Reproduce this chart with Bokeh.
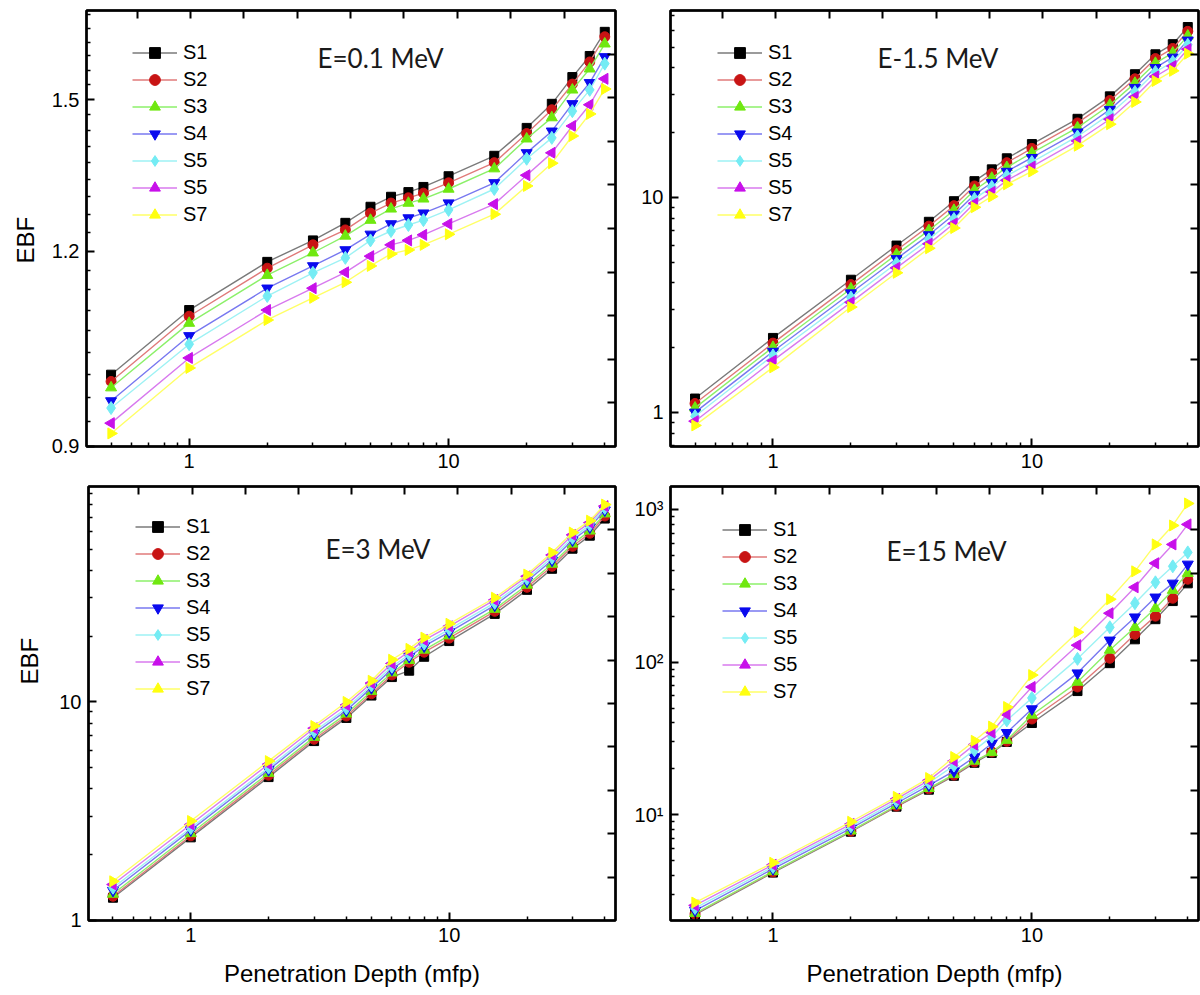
import math
from bokeh.plotting import figure
from bokeh.layouts import row, column
from bokeh.models import (Range1d, FixedTicker, LinearAxis, LinearScale, Legend, LegendItem,
                          Label, Title, PrintfTickFormatter, CustomJSTickFormatter)
from bokeh.embed import file_html
from bokeh.resources import INLINE

# ---------------- data ----------------
depth = [0.5, 1, 2, 3, 4, 5, 6, 7, 8, 10, 15, 20, 25, 30, 35, 40]
series_labels = ["S1", "S2", "S3", "S4", "S5", "S5", "S7"]

ebf_e01 = [
    [1.000, 1.100, 1.181, 1.219, 1.251, 1.281, 1.300, 1.309, 1.319, 1.340, 1.381, 1.439, 1.491, 1.551, 1.600, 1.658],
    [0.990, 1.090, 1.170, 1.211, 1.238, 1.269, 1.288, 1.298, 1.307, 1.327, 1.367, 1.427, 1.478, 1.535, 1.586, 1.646],
    [0.981, 1.079, 1.158, 1.197, 1.227, 1.256, 1.277, 1.288, 1.296, 1.315, 1.355, 1.416, 1.461, 1.522, 1.570, 1.629],
    [0.962, 1.059, 1.136, 1.174, 1.202, 1.230, 1.249, 1.260, 1.269, 1.288, 1.327, 1.387, 1.432, 1.491, 1.538, 1.598],
    [0.952, 1.046, 1.123, 1.162, 1.188, 1.219, 1.236, 1.247, 1.256, 1.275, 1.315, 1.375, 1.418, 1.475, 1.522, 1.582],
    [0.931, 1.025, 1.100, 1.136, 1.163, 1.191, 1.211, 1.219, 1.229, 1.249, 1.286, 1.342, 1.387, 1.443, 1.489, 1.547],
    [0.917, 1.010, 1.084, 1.120, 1.146, 1.174, 1.195, 1.202, 1.211, 1.230, 1.267, 1.321, 1.366, 1.422, 1.469, 1.524],
]

ebf_e15 = [
    [1.16, 2.22, 4.14, 5.97, 7.70, 9.60, 11.9, 13.5, 15.2, 17.7, 23.2, 29.5, 37.4, 46.3, 51.6, 62.0],
    [1.10, 2.10, 3.93, 5.68, 7.35, 9.15, 11.3, 12.9, 14.5, 16.9, 22.2, 28.2, 35.6, 44.2, 49.3, 59.2],
    [1.05, 2.01, 3.76, 5.43, 7.02, 8.72, 10.8, 12.3, 13.8, 16.1, 21.1, 26.9, 34.0, 42.1, 47.0, 56.4],
    [1.00, 1.92, 3.59, 5.18, 6.69, 8.32, 10.3, 11.7, 13.2, 15.3, 20.1, 25.6, 32.4, 40.1, 44.8, 53.8],
    [0.96, 1.84, 3.42, 4.94, 6.38, 7.93, 9.84, 11.2, 12.6, 14.6, 19.2, 24.4, 30.9, 38.3, 42.7, 51.3],
    [0.91, 1.74, 3.25, 4.70, 6.08, 7.56, 9.38, 10.6, 12.0, 13.9, 18.3, 23.1, 29.3, 36.5, 40.8, 48.9],
    [0.87, 1.62, 3.09, 4.46, 5.80, 7.20, 9.00, 10.1, 11.5, 13.2, 17.4, 21.9, 27.8, 34.8, 38.8, 46.6],
]

ebf_e3 = [
    [1.27, 2.40, 4.53, 6.62, 8.45, 10.7, 13.0, 13.9, 16.1, 19.0, 25.3, 32.6, 40.7, 50.3, 57.7, 69.1],
    [1.29, 2.44, 4.62, 6.75, 8.62, 10.9, 13.3, 15.2, 16.9, 19.6, 26.0, 33.5, 41.8, 51.6, 59.2, 71.0],
    [1.32, 2.50, 4.72, 6.90, 8.82, 11.2, 13.6, 15.5, 17.3, 20.1, 26.6, 34.3, 42.8, 52.9, 60.7, 72.7],
    [1.37, 2.59, 4.89, 7.15, 9.13, 11.6, 14.1, 16.1, 18.0, 20.9, 27.7, 35.7, 44.5, 55.0, 63.1, 75.5],
    [1.41, 2.65, 5.00, 7.32, 9.35, 11.9, 14.5, 16.5, 18.5, 21.5, 28.4, 36.6, 45.7, 56.4, 64.7, 77.3],
    [1.46, 2.75, 5.19, 7.58, 9.68, 12.2, 15.0, 17.0, 19.2, 22.2, 29.3, 37.6, 47.1, 58.2, 66.2, 78.8],
    [1.51, 2.85, 5.36, 7.76, 10.0, 12.5, 15.6, 17.5, 19.7, 22.8, 30.0, 38.3, 48.3, 59.6, 67.6, 80.1],
]

ebf_e150 = [
    [2.22, 4.18, 7.74, 11.3, 14.6, 18.0, 21.9, 25.4, 30.0, 39.9, 64.6, 98.4, 141, 191, 251, 328],
    [2.24, 4.22, 7.80, 11.4, 14.8, 18.2, 22.2, 25.8, 30.3, 42.4, 68.7, 106, 152, 200, 262, 349],
    [2.26, 4.25, 7.85, 11.5, 14.9, 18.4, 22.5, 25.6, 30.8, 45.0, 74.0, 120, 169, 225, 296, 382],
    [2.36, 4.42, 8.15, 11.9, 15.6, 19.3, 23.9, 29.3, 34.5, 49.3, 84.7, 139, 197, 266, 328, 437],
    [2.45, 4.55, 8.40, 12.3, 16.2, 21.0, 26.5, 32.5, 41.5, 58.2, 105, 169, 243, 333, 424, 523],
    [2.55, 4.70, 8.70, 12.7, 16.8, 22.5, 28.8, 34.6, 45.5, 68.7, 129, 209, 309, 444, 590, 798],
    [2.66, 4.85, 9.00, 13.1, 17.4, 23.9, 30.5, 37.8, 50.8, 82.2, 157, 258, 393, 590, 785, 1094],
]

titles = ["E=0.1 MeV", "E-1.5 MeV", "E=3 MeV", "E=15 MeV"]
x_label = "Penetration Depth (mfp)"
y_label = "EBF"

# tick definitions
x_major = [1, 10]
x_minor = [0.5, 0.6, 0.7, 0.8, 0.9, 2, 3, 4, 5, 6, 7, 8, 9, 20, 30, 40]
y01_major = [0.9, 1.2, 1.5]
y01_minor = [0.9333, 0.9667, 1.0, 1.0333, 1.0667, 1.1, 1.1333, 1.1667, 1.2333, 1.2667, 1.3,
             1.3333, 1.3667, 1.4, 1.4333, 1.4667, 1.5333, 1.5667, 1.6, 1.6333, 1.6667, 1.7]
y15_major = [1, 10]
y15_minor = [0.7, 0.8, 0.9, 2, 3, 4, 5, 6, 7, 8, 9, 20, 30, 40, 50, 60, 70]
y3_major = [1, 10]
y3_minor = [2, 3, 4, 5, 6, 7, 8, 9, 20, 30, 40, 50, 60, 70, 80, 90]
y150_major = [10, 100, 1000]
y150_minor = [3, 4, 5, 6, 7, 8, 9, 20, 30, 40, 50, 60, 70, 80, 90,
              200, 300, 400, 500, 600, 700, 800, 900]
mirror_ticks = [0, 1, 2, 3, 4, 5, 6, 7, 8]
right_ticks = [1, 2, 3, 4, 5, 6, 7, 8, 9]

# styles
fill_colors = ["#000000", "#c81414", "#70e810", "#0a0aee", "#74ecf4", "#c810ea", "#ffff10"]
line_colors = ["#7a7a7a", "#e07a7a", "#8cf06a", "#7878f0", "#9ef2f4", "#d87aee", "#ffff66"]
marker_types = ["square", "circle", "triangle", "inverted_triangle", "diamond", "triangle", "triangle"]
marker_angles = [0, 0, 0, 0, 0, math.pi / 2, -math.pi / 2]
marker_sizes = [9, 10, 11, 11, 13, 11, 11]

TICK_FONT = "Liberation Sans"
FS = "20px"


def style_axis(ax):
    ax.axis_line_width = 2
    ax.axis_line_color = "black"
    ax.major_tick_in = 8
    ax.major_tick_out = 0
    ax.major_tick_line_width = 2
    ax.major_tick_line_color = "black"
    ax.minor_tick_in = 4
    ax.minor_tick_out = 0
    ax.minor_tick_line_width = 1.5
    ax.minor_tick_line_color = "black"
    ax.major_label_text_font = TICK_FONT
    ax.major_label_text_font_size = FS
    ax.major_label_text_color = "black"
    ax.major_label_standoff = 7


def panel(ys, title, title_xy, width, height, borders, x_rng, y_rng,
          yt_major, yt_minor, y_formatter, top_rng, legend_xy,
          ebf=None, show_xlabel=False):
    p = figure(width=width, height=height, x_axis_type="log", y_axis_type="log",
               x_range=Range1d(*x_rng), y_range=Range1d(*y_rng),
               output_backend="svg", toolbar_location=None,
               min_border_left=borders[0], min_border_right=borders[1],
               min_border_top=borders[2], min_border_bottom=borders[3])
    p.grid.visible = False
    p.outline_line_color = "black"
    p.outline_line_width = 2.5
    p.background_fill_color = "white"
    p.border_fill_color = "white"

    xa = p.xaxis[0]
    xa.ticker = FixedTicker(ticks=x_major, minor_ticks=x_minor)
    xa.formatter = PrintfTickFormatter(format="%d")
    style_axis(xa)
    ya = p.yaxis[0]
    ya.ticker = FixedTicker(ticks=yt_major, minor_ticks=yt_minor)
    ya.formatter = y_formatter
    style_axis(ya)
    if show_xlabel:
        xa.axis_label = x_label
        xa.axis_label_text_font = TICK_FONT
        xa.axis_label_text_font_size = "24px"
        xa.axis_label_text_font_style = "normal"
        xa.axis_label_text_color = "black"
        xa.axis_label_standoff = 15

    # mirror axes (top / right) with ticks only
    p.extra_x_ranges = {"top": Range1d(*top_rng)}
    p.extra_x_scales = {"top": LinearScale()}
    p.extra_y_ranges = {"right": Range1d(0, 10)}
    p.extra_y_scales = {"right": LinearScale()}
    ta = LinearAxis(x_range_name="top", ticker=FixedTicker(ticks=mirror_ticks, minor_ticks=[]))
    ra = LinearAxis(y_range_name="right", ticker=FixedTicker(ticks=right_ticks, minor_ticks=[]))
    for ax in (ta, ra):
        style_axis(ax)
        ax.formatter = CustomJSTickFormatter(code="return '';")
        ax.major_label_text_font_size = "1px"
        ax.major_label_standoff = 0
        ax.minor_tick_in = 0
    p.add_layout(ta, "above")
    p.add_layout(ra, "right")

    if ebf is not None:
        p.add_layout(Title(text=y_label, align="left", offset=ebf[0], standoff=ebf[1],
                           text_font=TICK_FONT, text_font_size="24px",
                           text_font_style="normal", text_color="black"), "left")

    items = []
    for i in range(7):
        lr = p.line(depth, ys[i], line_color=line_colors[i], line_width=1.4)
        sr = p.scatter(depth, ys[i], marker=marker_types[i], size=marker_sizes[i],
                       angle=marker_angles[i], fill_color=fill_colors[i],
                       line_color=fill_colors[i], line_width=1)
        items.append(LegendItem(label=series_labels[i], renderers=[lr, sr]))

    leg = Legend(items=items, location=legend_xy, padding=0, margin=0, spacing=0,
                 glyph_width=45, glyph_height=27, label_height=27, label_standoff=6,
                 label_text_font=TICK_FONT, label_text_font_size="20px",
                 label_text_color="black", border_line_color=None,
                 background_fill_alpha=0)
    p.add_layout(leg, "center")

    p.add_layout(Label(x=title_xy[0], y=title_xy[1], x_units="screen", y_units="screen",
                       text=title, text_font="Lato", text_font_size="26px",
                       text_color="#1a1a1a", text_baseline="middle", text_align="left"))
    return p


XR = (0.402, 44.0)
top_left_rng = (-0.946, 8.961)
top_right_rng = (-0.974, 8.914)

p1 = panel(ebf_e01, titles[0], (231, 389), 626, 478, (86, 11, 10, 32), XR, (0.8995, 1.711),
           y01_major, y01_minor, PrintfTickFormatter(format="%.1f"), top_left_rng,
           (46, 218), ebf=(183, 19))
p2 = panel(ebf_e15, titles[1], (207, 389), 574, 478, (44, 2, 10, 32), XR, (0.694, 74),
           y15_major, y15_minor, PrintfTickFormatter(format="%d"), top_right_rng,
           (47, 218))
p3 = panel(ebf_e3, titles[2], (237, 372), 626, 515, (86, 11, 8, 73), XR, (0.999, 96.9),
           y3_major, y3_minor, PrintfTickFormatter(format="%d"), top_left_rng,
           (47, 218), ebf=(236, 27), show_xlabel=True)
p4 = panel(ebf_e150, titles[3], (216, 370), 574, 515, (44, 2, 8, 73), XR, (2.03, 1413),
           y150_major, y150_minor,
           CustomJSTickFormatter(code="const m = {10: '10\u00b9', 100: '10\u00b2', 1000: '10\u00b3'}; return m[Math.round(tick)] || '';"),
           top_right_rng, (52, 215), show_xlabel=True)

layout = column(row(p1, p2), row(p3, p4))
open("out.html", "w").write(file_html(layout, INLINE))
